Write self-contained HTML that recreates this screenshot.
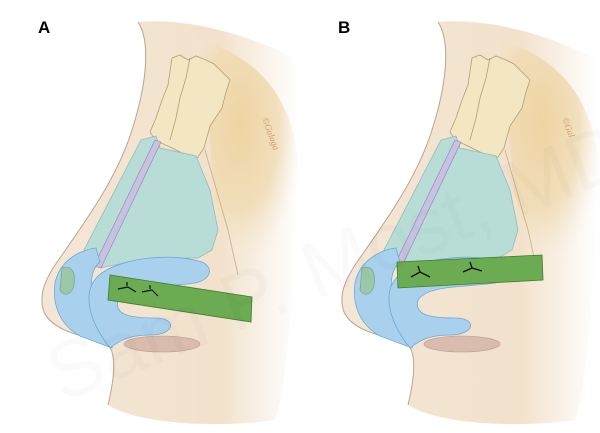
<!DOCTYPE html>
<html><head><style>
html,body{margin:0;padding:0;background:#fff;width:600px;height:433px;overflow:hidden}
.lbl{font-family:"Liberation Sans",sans-serif;font-weight:bold;font-size:17px}
</style></head><body>
<svg width="600" height="433" viewBox="0 0 600 433" xmlns="http://www.w3.org/2000/svg">
<defs>
<linearGradient id="skin" x1="0" y1="0" x2="1" y2="0">
<stop offset="0" stop-color="#f4e6d6"/><stop offset="0.7" stop-color="#f2e2cc"/><stop offset="1" stop-color="#ffffff"/>
</linearGradient>
<radialGradient id="tan" cx="0.45" cy="0.35" r="0.6">
<stop offset="0" stop-color="#eed4a2"/><stop offset="0.6" stop-color="#f0dbb4" stop-opacity="0.85"/><stop offset="1" stop-color="#f6ead8" stop-opacity="0"/>
</radialGradient>
<g id="nose">
<path d="M138,22 C150,40 148,80 132,130 C118,175 90,215 62,255 C45,278 38,295 44,312 C52,330 80,336 105,342 C118,350 114,380 108,405 C140,425 220,428 275,420 C290,380 300,200 298,60 C240,30 180,18 138,22 Z" fill="url(#skin)"/>
<path d="M195,40 C245,50 300,90 298,180 C295,240 270,270 245,280 L215,200 L205,90 Z" fill="url(#tan)"/>
<path d="M138,22 C150,40 148,80 132,130 C118,175 90,215 62,255 C45,278 38,295 44,312 C52,330 80,336 105,342 C118,350 114,380 108,405" fill="none" stroke="#b9a48e" stroke-width="1"/>
<path d="M172,58 L180,55 L188,60 L196,56 L206,60 L214,64 L222,72 L230,80 L226,92 L222,108 L210,126 L204,148 L196,160 L172,148 L155,140 L150,132 L156,118 L162,100 L168,85 Z" fill="#f3e6c2" stroke="#b39e74" stroke-width="0.8"/>
<path d="M190,58 L186,78 L180,98 L176,118 L170,140" fill="none" stroke="#b39e74" stroke-width="0.8"/>
<path d="M205,150 L228,230 L238,275" fill="none" stroke="#c7ad86" stroke-width="0.8"/>
<path d="M141,140 L156,136 L160,148 L196,156 L210,190 L218,230 L212,250 L198,258 L150,258 L100,268 L84,250 Z" fill="#b8ddd7" stroke="#8fbdb8" stroke-width="0.8"/>
<path d="M155,140 L161,142 L101,268 L94,266 Z" fill="#c8c1e2" stroke="#8c84b4" stroke-width="0.6"/>
<path d="M96,248 C80,250 60,260 55,283 C52,305 60,325 80,336 L112,348 L118,320 L95,300 C88,285 92,268 100,262 Z" fill="#a9d1ee" stroke="#6fa8d4" stroke-width="0.8"/>
<path d="M62,268 C70,265 76,270 74,285 C72,295 64,297 60,290 Z" fill="#9cc7a8" stroke="#6f9a7c" stroke-width="0.6"/>
<path d="M110,348 C88,320 82,292 98,276 C118,258 170,252 202,262 C215,268 210,280 195,283 C160,288 128,285 118,300 C114,315 130,318 155,318 C178,318 175,335 150,335 C130,335 120,340 110,348 Z" fill="#a9d1ee" stroke="#6fa8d4" stroke-width="0.8"/>
<ellipse cx="162" cy="344" rx="38" ry="8" fill="#d9bcae" stroke="#b79888" stroke-width="0.6"/>
</g>
</defs>
<text x="38" y="33" class="lbl">A</text>
<text x="338" y="33" class="lbl">B</text>
<use href="#nose"/>
<polygon points="110,275 252,297 251,322 108,300" fill="#6bab52" stroke="#3f7a30" stroke-width="0.8"/>
<path d="M118,289 L128,287 L136,292 M127,286 L127,282 M142,292 L152,290 L158,296 M150,289 L150,285" fill="none" stroke="#111" stroke-width="1.2"/>
<text x="265" y="125" font-family="Liberation Serif,serif" font-style="italic" font-size="9" fill="#c99a6a" transform="rotate(70 268 120)">©Gulaga</text>
<use href="#nose" transform="translate(300,0)"/>
<polygon points="397,262 542,255 543,280 398,288" fill="#6bab52" stroke="#3f7a30" stroke-width="0.8"/>
<path d="M411,277 L420,272 L430,277 M420,272 L418,266 M463,272 L472,268 L482,271 M472,268 L470,262" fill="none" stroke="#111" stroke-width="1.3"/>
<text x="565" y="125" font-family="Liberation Serif,serif" font-style="italic" font-size="9" fill="#c99a6a" transform="rotate(70 568 120)">©Gul</text>
<text x="10" y="300" font-family="Liberation Sans,sans-serif" font-size="80" fill="#000" fill-opacity="0.02" transform="rotate(-22 300 220)">Sam P. Most, MD</text>
</svg>
</body></html>
